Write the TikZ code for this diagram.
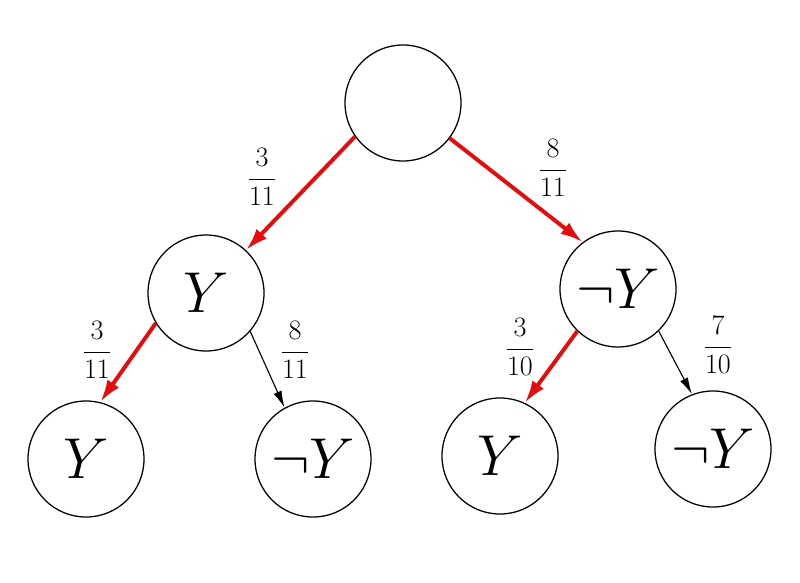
\RequirePackage{fix-cm}
\documentclass[tikz,border=0pt]{standalone}
\usetikzlibrary{arrows.meta}
\definecolor{arrred}{RGB}{228,12,12}
\begin{document}
\begin{tikzpicture}[x=0.025cm,y=-0.025cm,
  state/.style={circle,draw,line width=0.9pt,minimum size=2.9cm,inner sep=0pt,font=\fontsize{41}{48}\selectfont},
  redarr/.style={draw=arrred,line width=2.8pt,-{Latex[length=16pt,width=10pt]}},
  blkarr/.style={draw=black,line width=0.8pt,-{Latex[length=12pt,width=6pt]}},
  prob/.style={font=\fontsize{20}{24}\selectfont,inner sep=0pt}]
\useasboundingbox (0,0) rectangle (800,583);
\node[state] (r) at (403,103) {};
\node[state] (a) at (206,293) {$Y$};
\node[state] (b) at (618,289) {$\neg Y$};
\node[state] (aa) at (86,459) {$Y$};
\node[state] (ab) at (313,459) {$\neg Y$};
\node[state] (ba) at (500,456) {$Y$};
\node[state] (bb) at (713,449) {$\neg Y$};
\draw[redarr] (r.215) -- (a.47);
\draw[redarr] (r.-37) -- (b.127);
\draw[redarr] (a.211) -- (aa.76);
\draw[blkarr] (a.-41) -- (ab.119);
\draw[redarr] (b.226) -- (ba.65);
\draw[blkarr] (b.-46) -- (bb.111);
\node[prob] (p1) at (262,177) {$\displaystyle\frac{3}{11}$};
\node[prob] (p2) at (553,168) {$\displaystyle\frac{8}{11}$};
\node[prob] (p3) at (97,350) {$\displaystyle\frac{3}{11}$};
\node[prob] (p4) at (295,350) {$\displaystyle\frac{8}{11}$};
\node[prob] (p5) at (520,347) {$\displaystyle\frac{3}{10}$};
\node[prob] (p6) at (718,345) {$\displaystyle\frac{7}{10}$};
\end{tikzpicture}
\end{document}
